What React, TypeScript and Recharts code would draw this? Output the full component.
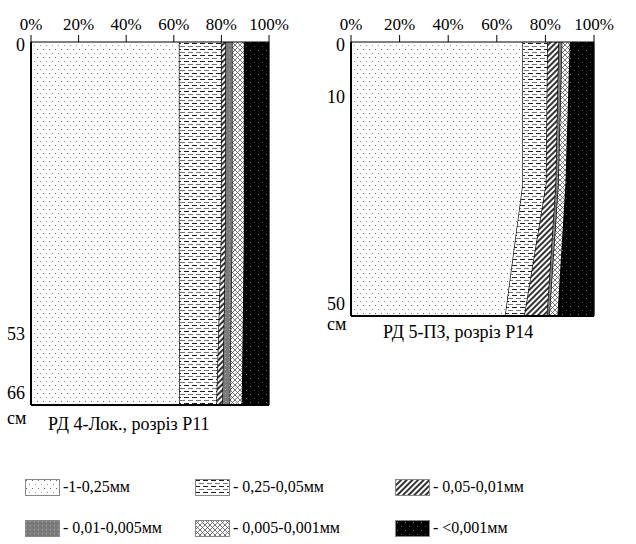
import React from 'react';
import { AreaChart, Area, XAxis, YAxis, ReferenceLine } from 'recharts';

// fraction names (legend)
const fractionLabels = ['-1-0,25мм', '- 0,25-0,05мм', '- 0,05-0,01мм', '- 0,01-0,005мм', '- 0,005-0,001мм', '- <0,001мм'];
const fractionKeys = ['f1', 'f2', 'f3', 'f4', 'f5', 'f6'];
const patternIds = ['pSand', 'pDash', 'pHatch', 'pGray', 'pCross', 'pBlack'];
const percentTicks = [0, 20, 40, 60, 80, 100];

// РД 4-Лок., розріз Р11
const depthP11 = [0, 35, 66];
const depthTicksP11 = [0, 53, 66];
const f1P11 = [62.4, 62.4, 62.5];
const f2P11 = [17.7, 17.7, 15.6];
const f3P11 = [1.8, 1.8, 2.5];
const f4P11 = [2.8, 2.8, 3.1];
const f5P11 = [5.0, 5.0, 5.1];
const f6P11 = [10.3, 10.3, 11.2];

// РД 5-ПЗ, розріз Р14
const depthP14 = [0, 26, 50];
const depthTicksP14 = [0, 10, 50];
const f1P14 = [70.8, 70.8, 63.6];
const f2P14 = [10.2, 9.6, 7.9];
const f3P14 = [4.6, 4.0, 9.3];
const f4P14 = [1.4, 1.1, 1.0];
const f5P14 = [3.3, 3.0, 3.4];
const f6P14 = [9.7, 11.5, 14.8];

const buildRows = (depths: number[], cols: number[][]) =>
  depths.map((d, i) => {
    const row: any = { depth: d };
    fractionKeys.forEach((k, j) => (row[k] = cols[j][i]));
    return row;
  });

const dataP11 = buildRows(depthP11, [f1P11, f2P11, f3P11, f4P11, f5P11, f6P11]);
const dataP14 = buildRows(depthP14, [f1P14, f2P14, f3P14, f4P14, f5P14, f6P14]);

const FONT = '"Liberation Serif"';

function Patterns() {
  return (
    <svg width={0} height={0} style={{ position: 'absolute' }}>
      <defs>
        <pattern id="pSand" width={6} height={8} patternUnits="userSpaceOnUse">
          <rect width={6} height={8} fill="#fff" />
          <rect x={1} y={1} width={1} height={1} fill="#666" />
          <rect x={4} y={5} width={1} height={1} fill="#999" />
        </pattern>
        <pattern id="pDash" width={8} height={6} patternUnits="userSpaceOnUse">
          <rect width={8} height={6} fill="#fff" />
          <line x1={0} y1={1.5} x2={5} y2={1.5} stroke="#222" strokeWidth={1} />
          <line x1={4} y1={4.5} x2={8} y2={4.5} stroke="#777" strokeWidth={1} />
          <line x1={0} y1={4.5} x2={1} y2={4.5} stroke="#777" strokeWidth={1} />
        </pattern>
        <pattern id="pHatch" width={4} height={4} patternUnits="userSpaceOnUse" patternTransform="rotate(45)">
          <rect width={4} height={4} fill="#fff" />
          <line x1={1} y1={0} x2={1} y2={4} stroke="#000" strokeWidth={1.6} />
        </pattern>
        <pattern id="pGray" width={4} height={4} patternUnits="userSpaceOnUse">
          <rect width={4} height={4} fill="#7a7a7a" />
          <rect x={1} y={1} width={1} height={1} fill="#aaa" />
        </pattern>
        <pattern id="pCross" width={5} height={5} patternUnits="userSpaceOnUse">
          <rect width={5} height={5} fill="#fff" />
          <line x1={0} y1={0} x2={5} y2={5} stroke="#555" strokeWidth={0.8} />
          <line x1={5} y1={0} x2={0} y2={5} stroke="#555" strokeWidth={0.8} />
        </pattern>
        <pattern id="pBlack" width={8} height={8} patternUnits="userSpaceOnUse">
          <rect width={8} height={8} fill="#000" />
          <rect x={2} y={2} width={1} height={1} fill="#777" />
          <rect x={6} y={6} width={1} height={1} fill="#555" />
        </pattern>
      </defs>
    </svg>
  );
}

// depth labels: the first sits a bit below the top edge, the last a bit above the bottom edge
function DepthTick(props: any) {
  const { x, y, payload, index, visibleTicksCount } = props;
  let dy = 6;
  if (index === 0) dy = 9;
  if (index === visibleTicksCount - 1) dy = -6;
  return (
    <text x={x} y={y} dy={dy} textAnchor="end" fill="#000" fontSize={18} style={{ fontFamily: FONT }}>
      {payload.value}
    </text>
  );
}

interface ProfileProps {
  data: any[];
  maxDepth: number;
  depthTicks: number[];
  width: number;
  height: number;
  margin: { top: number; right: number; bottom: number; left: number };
}

function Profile({ data, maxDepth, depthTicks, width, height, margin }: ProfileProps) {
  return (
    <AreaChart layout="vertical" width={width} height={height} data={data} margin={margin} style={{ fontFamily: FONT }}>
      <XAxis
        type="number"
        orientation="top"
        domain={[0, 100]}
        ticks={percentTicks}
        tickFormatter={(v: number) => v + '%'}
        height={30}
        tickSize={7}
        tickMargin={5}
        axisLine={{ stroke: '#000', strokeWidth: 1 }}
        tickLine={{ stroke: '#000' }}
        tick={{ fill: '#000', fontSize: 17, style: { fontFamily: FONT } }}
        interval={0}
      />
      <YAxis
        type="number"
        dataKey="depth"
        domain={[0, maxDepth]}
        ticks={depthTicks}
        width={25}
        tickLine={false}
        tickSize={4}
        tickMargin={2}
        axisLine={{ stroke: '#000', strokeWidth: 2 }}
        tick={<DepthTick />}
        interval={0}
      />
      {fractionKeys.map((k, i) => (
        <Area
          key={k}
          type="linear"
          dataKey={k}
          stackId="g"
          stroke="#000"
          strokeWidth={1.3}
          fill={`url(#${patternIds[i]})`}
          fillOpacity={1}
          isAnimationActive={false}
        />
      ))}
      <ReferenceLine y={maxDepth} stroke="#000" strokeWidth={2} />
    </AreaChart>
  );
}

function Swatch({ id }: { id: string }) {
  return (
    <svg width={35} height={17} style={{ display: 'block' }}>
      <rect x={0.5} y={0.5} width={34} height={16} fill={`url(#${id})`} stroke="#888" strokeWidth={1} />
    </svg>
  );
}

const legendPos = [
  { x: 25, y: 478 },
  { x: 195, y: 478 },
  { x: 395, y: 478 },
  { x: 25, y: 519 },
  { x: 195, y: 519 },
  { x: 395, y: 519 },
];

export default function App() {
  const text: React.CSSProperties = { position: 'absolute', fontFamily: FONT, fontSize: 18, color: '#000', whiteSpace: 'nowrap', lineHeight: '20px' };
  return (
    <div style={{ position: 'absolute', left: 0, top: 0, width: 636, height: 544, background: '#fff', fontFamily: FONT }}>
      <Patterns />
      <div style={{ position: 'absolute', left: 0, top: 0 }}>
        <Profile data={dataP11} maxDepth={66} depthTicks={depthTicksP11} width={290} height={440} margin={{ top: 12, right: 21, bottom: 35, left: 6 }} />
      </div>
      <div style={{ position: 'absolute', left: 320, top: 0 }}>
        <Profile data={dataP14} maxDepth={50} depthTicks={depthTicksP14} width={300} height={350} margin={{ top: 12, right: 26, bottom: 34, left: 6 }} />
      </div>
      <div style={{ ...text, left: 7, top: 408 }}>см</div>
      <div style={{ ...text, left: 48, top: 414 }}>РД 4-Лок., розріз Р11</div>
      <div style={{ ...text, left: 327, top: 314 }}>см</div>
      <div style={{ ...text, left: 383, top: 322 }}>РД 5-ПЗ, розріз Р14</div>
      {fractionLabels.map((lab, i) => (
        <div key={lab} style={{ position: 'absolute', left: legendPos[i].x, top: legendPos[i].y, display: 'flex', alignItems: 'center', gap: 3 }}>
          <Swatch id={patternIds[i]} />
          <span style={{ fontFamily: FONT, fontSize: 16, whiteSpace: 'nowrap' }}>{lab}</span>
        </div>
      ))}
    </div>
  );
}
